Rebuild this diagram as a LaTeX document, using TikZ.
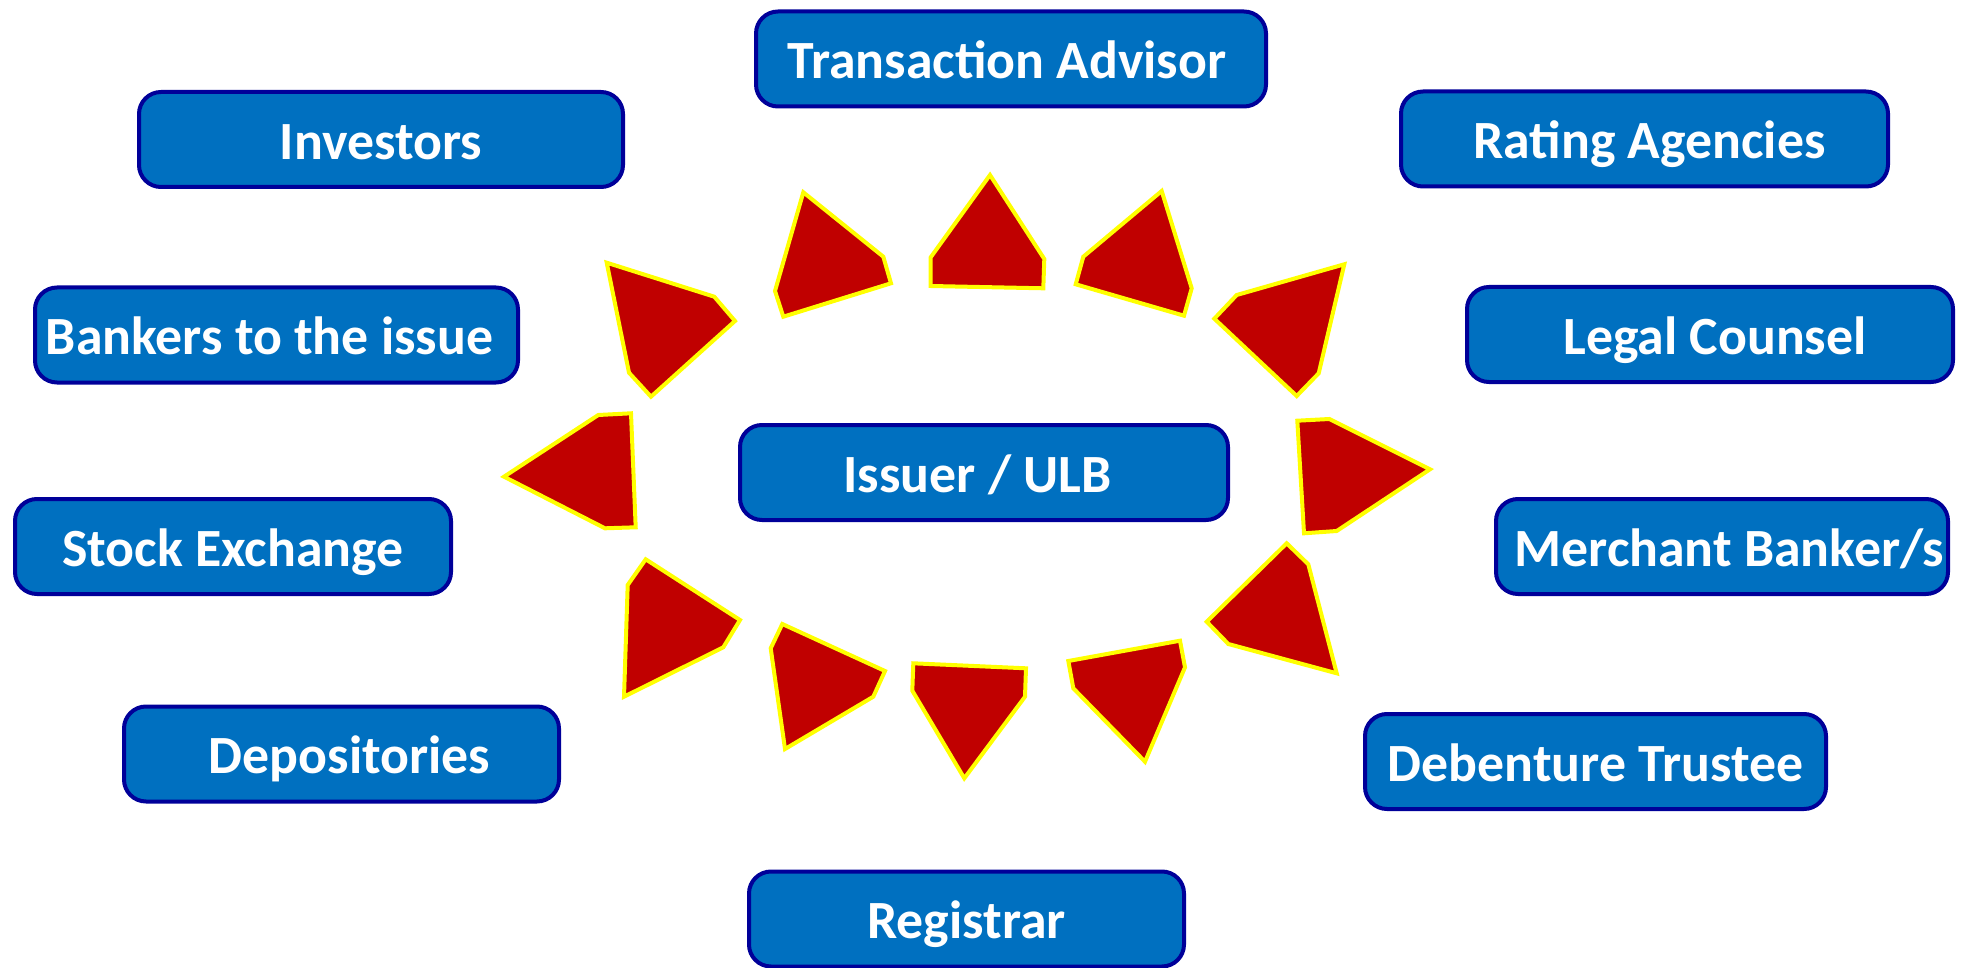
\documentclass[tikz,border=0pt]{standalone}
\usepackage{fontspec}
\setmainfont{Carlito}
\definecolor{boxfill}{HTML}{0070C0}
\definecolor{boxline}{HTML}{000099}
\definecolor{arrfill}{HTML}{C00000}
\definecolor{arrline}{HTML}{FFFF00}
\newcommand{\nudge}[1]{\hspace*{#1}}
\begin{document}
\begin{tikzpicture}[x=1pt,y=-1pt,
  party/.style={draw=boxline, fill=boxfill, line width=4pt, rounded corners=22pt,
    text=white, font=\fontsize{53.8}{60}\selectfont\bfseries,
    minimum height=95pt, inner sep=0pt, text height=39.5pt, text depth=0pt},
  pointer/.style={draw=arrline, fill=arrfill, line width=4pt, line join=miter}]
\useasboundingbox (0,0) rectangle (1968,968);
% boxes
\node[party, minimum width=510pt] (ta) at (1011,59) {Transaction Advisor\nudge{8pt}};
\node[party, minimum width=484pt] (inv) at (381,139.5) {Investors};
\node[party, minimum width=487pt] (rat) at (1644.5,139) {\nudge{10pt}Rating Agencies};
\node[party, minimum width=483pt] (bank) at (276.5,335) {Bankers to the issue\nudge{14pt}};
\node[party, minimum width=486pt] (legal) at (1710,334.5) {\nudge{10pt}Legal Counsel};
\node[party, minimum width=488pt] (iss) at (984,472.5) {Issuer / ULB\nudge{13pt}};
\node[party, minimum width=436pt] (stock) at (233,546.5) {Stock Exchange};
\node[party, minimum width=452pt] (merch) at (1722,546.5) {\nudge{14pt}Merchant Banker/s};
\node[party, minimum width=435pt] (dep) at (341.5,754) {\nudge{16pt}Depositories};
\node[party, minimum width=461pt] (deb) at (1595.5,761.5) {Debenture Trustee};
\node[party, minimum width=435pt] (reg) at (966.5,919) {Registrar};
% arrows
\filldraw[pointer] (990,175) -- (1044.3,259) -- (1043.3,288.3) -- (930.7,286) -- (930.7,257.3) -- cycle;
\filldraw[pointer] (1161.7,191) -- (1191.7,288.3) -- (1184,315.7) -- (1075.7,284.3) -- (1083.3,256.7) -- cycle;
\filldraw[pointer] (1344.3,264.3) -- (1318.7,373.3) -- (1296.7,396) -- (1214.3,318.7) -- (1236.7,295) -- cycle;
\filldraw[pointer] (1430,469.3) -- (1336.7,531) -- (1304,533.3) -- (1297.3,420.7) -- (1329.3,419) -- cycle;
\filldraw[pointer] (1336.7,673.3) -- (1228.3,644) -- (1206.7,621.7) -- (1286.7,543.3) -- (1308.3,564.3) -- cycle;
\filldraw[pointer] (1145,761.7) -- (1073.3,688.3) -- (1068.3,661) -- (1180,640.7) -- (1185,667.3) -- cycle;
\filldraw[pointer] (964.3,778.3) -- (912.3,690.7) -- (913.3,663.3) -- (1026,668.3) -- (1025,696.7) -- cycle;
\filldraw[pointer] (785,749) -- (770.7,648.3) -- (782.3,624) -- (885,671) -- (873.3,696.7) -- cycle;
\filldraw[pointer] (624,696.7) -- (627.7,585) -- (645.7,559.3) -- (740,620) -- (723.3,647.3) -- cycle;
\filldraw[pointer] (504,476.7) -- (598.3,415) -- (631,413.3) -- (635.7,527.3) -- (605,528.3) -- cycle;
\filldraw[pointer] (606.7,262.7) -- (714.3,296.7) -- (735,321) -- (651,396.7) -- (629,372.7) -- cycle;
\filldraw[pointer] (803.3,192.3) -- (883.3,256.7) -- (891,283.3) -- (783.3,316.7) -- (775,291) -- cycle;
\end{tikzpicture}
\end{document}
